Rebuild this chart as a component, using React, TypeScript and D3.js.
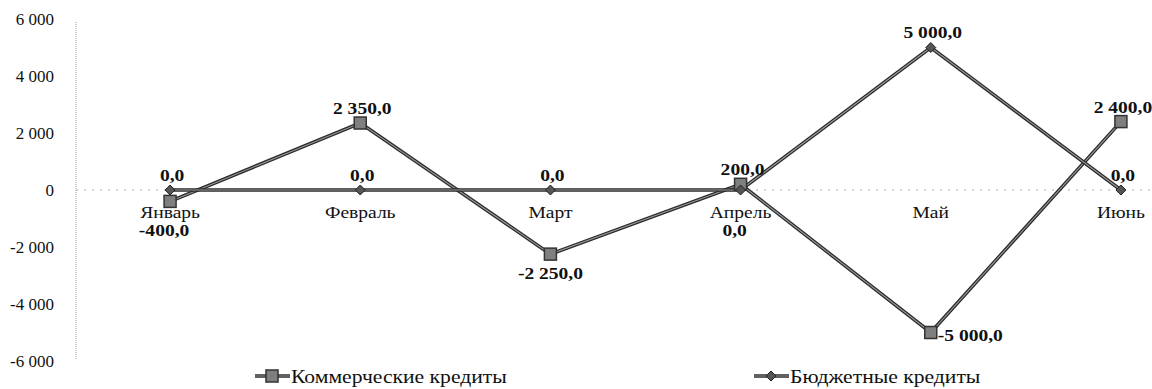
import React from "react";
import * as d3 from "d3";

const months = ["Январь", "Февраль", "Март", "Апрель", "Май", "Июнь"];
const commercial = [-400, 2350, -2250, 200, -5000, 2400];
const budget = [0, 0, 0, 0, 5000, 0];
const yTicks = [-6000, -4000, -2000, 0, 2000, 4000, 6000];
const seriesNames = ["Коммерческие кредиты", "Бюджетные кредиты"];
// label placement per point: "a" above, "b" below, "bb" below category label, "r" right
const commercialPos = ["bb", "a", "b", "a", "r", "a"];
const budgetPos = ["a", "a", "a", "bb", "a", "a"];

const W = 1152;
const H = 389;
const FONT = "Liberation Serif";
const SX = 1.15;

const fmtNum = (v: number) => {
  const s = Math.abs(v).toFixed(1).replace(".", ",");
  const [int, dec] = s.split(",");
  const grouped = int.replace(/\B(?=(\d{3})+(?!\d))/g, " ");
  return (v < 0 ? "-" : "") + grouped + "," + dec;
};
const fmtTick = (v: number) => {
  const s = Math.abs(v).toString().replace(/\B(?=(\d{3})+(?!\d))/g, " ");
  return (v < 0 ? "-" : "") + s;
};

// stretched text (the reference glyphs are horizontally widened)
const ST = ({ x, y, children, ...rest }: any) => (
  <text
    transform={`translate(${x},${y}) scale(${SX},1)`}
    dy="0.35em"
    fill="#111"
    style={{ fontFamily: FONT }}
    {...rest}
  >
    {children}
  </text>
);

export default function App() {
  const x = d3.scaleBand<string>().domain(months).range([75, 1216]);
  const cx = (m: string) => (x(m) as number) + x.bandwidth() / 2;
  const y = d3.scaleLinear().domain([-6000, 6000]).range([361, 19]);
  const line = d3
    .line<number>()
    .x((_, i) => cx(months[i]))
    .y((d) => y(d));

  const labelXY = (i: number, v: number, pos: string) => {
    const px = cx(months[i]);
    const py = y(v);
    if (pos === "a") return { x: px + 2, y: py - 15, anchor: "middle" };
    if (pos === "b") return { x: px, y: py + 19, anchor: "middle" };
    if (pos === "bb") return { x: px - 6, y: y(0) + 40, anchor: "middle" };
    return { x: px + 7, y: py + 3, anchor: "start" };
  };

  const drawLine = (data: number[], key: string) => (
    <g key={key}>
      <path d={line(data) || ""} fill="none" stroke="#2b2b2b" strokeWidth={3.6} />
      <path d={line(data) || ""} fill="none" stroke="#9a9a9a" strokeWidth={1.1} />
    </g>
  );

  const square = (px: number, py: number, k: string) => (
    <rect key={k} x={px - 6} y={py - 6} width={12} height={12} fill="#7f7f7f" stroke="#333" strokeWidth={1.5} />
  );
  const diamond = (px: number, py: number, k: string) => (
    <path key={k} d={`M${px},${py - 5}L${px + 5},${py}L${px},${py + 5}L${px - 5},${py}Z`} fill="#555" stroke="#222" strokeWidth={1} />
  );

  return (
    <svg width={W} height={H} style={{ position: "absolute", left: 0, top: 0, background: "#fff" }}>
      {/* y axis */}
      <line x1={76} x2={76} y1={y(6000) + 3} y2={y(-6000) - 2} stroke="#999" strokeWidth={1} strokeDasharray="1,1" />
      {yTicks.map((t) => (
        <text key={t} x={54} y={y(t)} dy="0.35em" textAnchor="end" fontSize={17} fill="#111" style={{ fontFamily: FONT }}>
          {fmtTick(t)}
        </text>
      ))}
      {/* zero line */}
      <line x1={76} x2={W} y1={y(0)} y2={y(0)} stroke="#aaa" strokeWidth={1} strokeDasharray="2,6" />
      {/* category labels */}
      {months.map((m) => (
        <ST key={m} x={cx(m)} y={y(0) + 22} textAnchor="middle" fontSize={17}>
          {m}
        </ST>
      ))}
      {drawLine(commercial, "c")}
      {drawLine(budget, "b")}
      {commercial.map((v, i) => square(cx(months[i]), y(v), "cs" + i))}
      {budget.map((v, i) => diamond(cx(months[i]), y(v), "bd" + i))}
      {commercial.map((v, i) => {
        const p = labelXY(i, v, commercialPos[i]);
        return (
          <ST key={"cl" + i} x={p.x} y={p.y} textAnchor={p.anchor} fontSize={17} fontWeight="bold">
            {fmtNum(v)}
          </ST>
        );
      })}
      {budget.map((v, i) => {
        const p = labelXY(i, v, budgetPos[i]);
        return (
          <ST key={"bl" + i} x={p.x} y={p.y} textAnchor={p.anchor} fontSize={17} fontWeight="bold">
            {fmtNum(v)}
          </ST>
        );
      })}
      {/* legend */}
      {seriesNames.map((n, i) => {
        const lx = i === 0 ? 255 : 754;
        const ly = 376;
        return (
          <g key={n}>
            <line x1={lx} x2={lx + 35} y1={ly} y2={ly} stroke="#2b2b2b" strokeWidth={3.6} />
            <line x1={lx} x2={lx + 35} y1={ly} y2={ly} stroke="#9a9a9a" strokeWidth={1.1} />
            {i === 0 ? square(lx + 17, ly, "ls") : diamond(lx + 17, ly, "ld")}
            <ST x={lx + 36} y={ly} fontSize={18.8}>
              {n}
            </ST>
          </g>
        );
      })}
    </svg>
  );
}
